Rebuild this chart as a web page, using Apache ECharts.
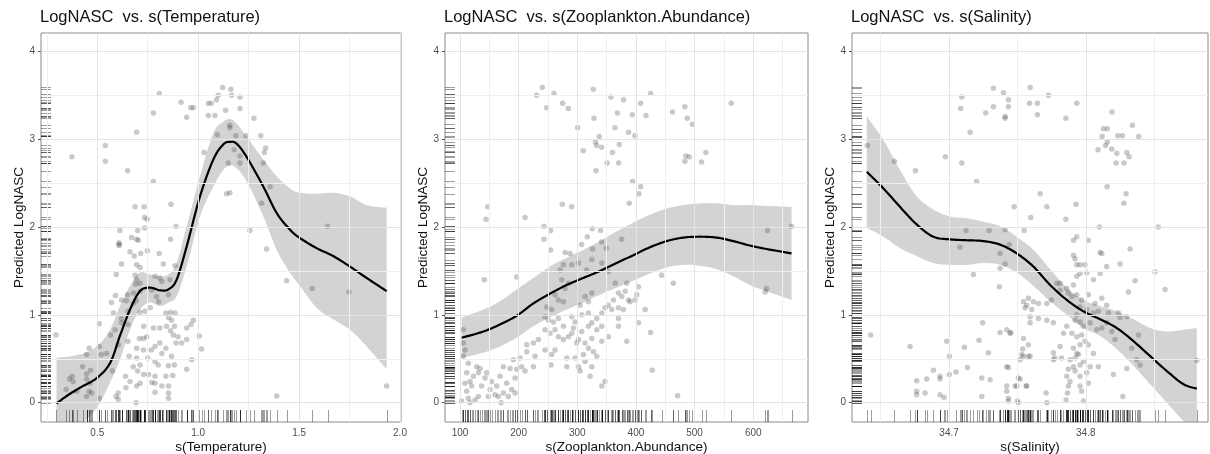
<!DOCTYPE html>
<html><head><meta charset="utf-8">
<script src="https://cdn.jsdelivr.net/npm/echarts@6/dist/echarts.min.js"></script>
<style>html,body{margin:0;padding:0;background:#fff}#c{width:1210px;height:454px}</style>
</head><body><div id="c"></div>
<script>
// ---------- text ----------
const panelTitles = ['LogNASC  vs. s(Temperature)', 'LogNASC  vs. s(Zooplankton.Abundance)', 'LogNASC  vs. s(Salinity)'];
const xNames = ['s(Temperature)', 's(Zooplankton.Abundance)', 's(Salinity)'];
const yName = 'Predicted LogNASC';

// ---------- ticks ----------
const yTicks = [0, 1, 2, 3, 4];
const yMinor = [0.5, 1.5, 2.5, 3.5];
const tempTicks = [0.5, 1.0, 1.5, 2.0];
const tempTickLabels = ['0.5', '1.0', '1.5', '2.0'];
const tempMinor = [0.25, 0.75, 1.25, 1.75];
const zooTicks = [100, 200, 300, 400, 500, 600];
const zooTickLabels = ['100', '200', '300', '400', '500', '600'];
const zooMinor = [150, 250, 350, 450, 550, 650];
const salTicks = [34.7, 34.8];
const salTickLabels = ['34.7', '34.8'];
const salMinor = [34.65, 34.75, 34.85];

// ---------- Temperature panel ----------
const tempPoints = [
[0.295,0.77],[0.374,2.80],[0.54,2.93],[0.54,2.75],[0.65,2.64],[0.695,3.08],[0.778,3.30],[0.807,3.52],[0.778,2.52],[0.687,2.23],[0.732,2.23],[0.734,2.11],[0.747,2.09],[0.865,2.26],[0.89,2.01],[0.612,1.96],[0.70,1.96],[0.734,1.99],[0.67,1.88],[0.695,1.86],[0.607,1.82],[0.607,1.79],[0.863,1.86],
[0.915,3.42],[0.963,3.36],[0.976,3.36],[0.943,3.25],[1.05,3.41],[1.065,3.41],[1.05,3.27],[1.083,3.27],[1.091,3.45],[1.099,3.50],[1.121,3.59],[1.162,3.57],[1.166,3.50],[1.207,3.48],[1.136,3.33],[1.207,3.35],[1.276,3.24],[1.095,3.05],[1.187,3.04],[1.237,3.04],[1.31,3.04],[1.157,3.16],[1.157,3.13],[1.178,2.88],[1.334,2.90],[1.328,2.85],[1.029,2.85],[1.207,2.81],[1.149,2.73],[1.207,2.73],[1.323,2.73],[1.141,2.38],[1.157,2.39],[1.356,2.46],[1.314,2.27],[1.256,1.96],[1.339,1.75],[1.438,1.39],[1.565,1.30],[1.641,2.01],[1.747,1.26],[1.934,0.19],[1.389,0.076],
[0.61,1.80],[0.703,1.85],[0.662,1.72],[0.715,1.70],[0.748,1.73],[0.807,1.70],[0.683,1.67],[0.62,1.58],[0.695,1.57],[0.712,1.54],[0.827,1.58],[0.885,1.56],[0.594,1.46],[0.687,1.45],[0.695,1.40],[0.712,1.36],[0.69,1.35],[0.786,1.44],[0.81,1.42],[0.82,1.38],[0.86,1.40],[0.77,1.28],[0.712,1.27],[0.68,1.25],[0.59,1.22],[0.65,1.23],[0.62,1.17],[0.645,1.16],[0.678,1.13],[0.694,1.16],[0.57,1.14],[0.794,1.21],[0.804,1.15],[0.853,1.23],[0.762,1.08],[0.737,1.04],[0.712,1.03],[0.652,1.04],[0.62,0.96],[0.58,1.02],[0.84,1.02],[0.863,1.03],[0.885,1.02],[0.853,0.97],[0.868,0.94],[0.62,0.91],[0.652,0.89],[0.51,0.90],[0.73,0.87],[0.778,0.85],[0.81,0.85],[0.843,0.87],[0.882,0.87],[0.943,0.85],[0.976,0.94],[0.964,0.89],[0.588,0.83],[0.566,0.77],[0.863,0.82],[0.877,0.77],[0.90,0.75],[0.918,0.68],[0.943,0.72],[1.005,0.76],[1.017,0.61],[0.709,0.73],[0.729,0.73],[0.745,0.75],[0.786,0.64],[0.84,0.62],[0.89,0.68],[0.81,0.68],[0.652,0.70],[0.604,0.66],[0.46,0.62],[0.51,0.64],[0.695,0.62],[0.729,0.60],[0.767,0.60],[0.82,0.56],[0.868,0.53],[0.546,0.56],[0.52,0.55],[0.658,0.53],[0.695,0.51],[0.75,0.51],[0.786,0.47],[0.802,0.43],[0.852,0.42],[0.882,0.43],[0.968,0.49],[0.943,0.38],[0.712,0.43],[0.678,0.41],[0.70,0.36],[0.729,0.32],[0.754,0.32],[0.575,0.36],[0.427,0.41],[0.447,0.33],[0.467,0.37],[0.375,0.30],[0.362,0.27],[0.38,0.24],[0.64,0.30],[0.786,0.30],[0.84,0.30],[0.874,0.31],[0.447,0.27],[0.464,0.22],[0.662,0.24],[0.712,0.22],[0.77,0.23],[0.786,0.22],[0.82,0.19],[0.853,0.19],[0.46,0.13],[0.472,0.11],[0.345,0.15],[0.398,0.13],[0.604,0.11],[0.642,0.17],[0.695,0.19],[0.51,0.05],[0.593,0.07],[0.604,0.04],[0.447,0.07],[0.692,0.0],[0.786,0.12],[0.853,0.11],[0.853,0.05],[0.447,0.55]
];
const tempFit = [[0.298,-0.01],[0.348,0.076],[0.414,0.17],[0.497,0.28],[0.563,0.45],[0.612,0.76],[0.662,1.06],[0.711,1.27],[0.761,1.31],[0.81,1.28],[0.852,1.29],[0.893,1.40],[0.943,1.78],[1.009,2.35],[1.075,2.77],[1.124,2.94],[1.157,2.97],[1.19,2.95],[1.24,2.80],[1.323,2.46],[1.389,2.16],[1.455,1.97],[1.504,1.875],[1.587,1.76],[1.669,1.67],[1.752,1.55],[1.835,1.42],[1.934,1.27]];
// [x, lower, upper]
const tempBand = [[0.298,-0.35,0.51],[0.414,-0.25,0.55],[0.497,-0.06,0.64],[0.563,0.23,0.83],[0.612,0.49,1.10],[0.662,0.83,1.33],[0.711,1.06,1.48],[0.761,1.14,1.46],[0.81,1.10,1.44],[0.852,1.14,1.46],[0.893,1.21,1.59],[0.943,1.55,2.01],[1.009,2.12,2.58],[1.075,2.46,3.07],[1.124,2.65,3.20],[1.157,2.70,3.23],[1.19,2.67,3.18],[1.24,2.52,3.03],[1.323,2.12,2.77],[1.389,1.74,2.58],[1.455,1.48,2.44],[1.504,1.33,2.39],[1.587,1.08,2.38],[1.669,0.95,2.39],[1.752,0.83,2.35],[1.835,0.64,2.25],[1.934,0.38,2.22]];

// ---------- Zooplankton panel ----------
const zooPoints = [
[230.7,3.50],[240.3,3.59],[247.7,3.36],[260.2,3.52],[275,3.41],[284.7,3.35],[300.6,3.13],[327.3,3.57],[328.4,3.24],[357.4,3.48],[368.2,3.30],[364.2,3.13],[379,3.45],[393.8,3.28],[408,3.41],[417,3.27],[425,3.52],[337.5,3.03],[331,2.97],[332.9,2.93],[341.5,2.91],[371.6,2.94],[310,2.87],[360,2.85],[351,2.73],[370.5,2.73],[331.8,2.64],[387.5,3.08],[398.3,3.04],[394.3,2.52],[408,2.46],[405,2.38],[388.6,2.27],[462.5,3.31],[483.5,3.37],[487.5,3.24],[496,3.17],[562.5,3.41],[485.2,2.81],[490.9,2.80],[483.5,2.75],[519.3,2.85],[511.9,2.74],[274.4,2.26],[290.3,2.23],[147.2,2.23],[144.3,2.09],[210.8,2.11],[243.2,2.01],[254.5,1.96],[325.6,1.98],[339.8,1.96],[141.5,1.40],[196.6,1.43],[624.4,1.96],[665.3,2.01],[622.7,1.30],[620.5,1.26],[443.8,1.45],[463.6,1.36],[425,0.80],[427.8,0.37],[471,0.08],[243.2,1.86],[254.5,1.74],[307.4,1.80],[317,1.89],[341.5,1.83],[349.4,1.76],[375.6,1.86],[326,1.75],
[279.2,1.71],[287.7,1.70],[276.3,1.57],[270.6,1.51],[290.6,1.57],[302,1.59],[316.1,1.51],[324.7,1.63],[341.8,1.59],[353.1,1.49],[273.5,1.40],[284.9,1.36],[279.2,1.30],[262.1,1.23],[267.8,1.17],[247.9,1.09],[256.4,1.06],[276.3,1.15],[245,0.98],[250.7,0.94],[259.3,0.92],[267.8,0.96],[276.3,0.87],[290.6,0.98],[296.2,0.92],[304.8,1.11],[313.3,1.21],[319,1.15],[324.7,1.25],[307.6,1.00],[319,1.02],[324.7,0.91],[333.2,0.96],[341.8,1.02],[347.4,1.08],[353.1,1.11],[361.7,1.17],[370.2,1.25],[375.9,1.21],[381.6,1.27],[387.3,1.17],[390.1,1.15],[358.8,1.06],[370.2,0.96],[378.7,1.06],[245,0.83],[253.6,0.79],[262.1,0.83],[267.8,0.75],[276.3,0.72],[284.9,0.75],[290.6,0.79],[299.1,0.68],[302,0.72],[293.4,0.85],[307.6,0.81],[319,0.87],[313.3,0.68],[324.7,0.73],[333.2,0.83],[341.8,0.87],[353.1,0.75],[370.2,0.87],[384.4,0.70],[341.8,0.70],[327.6,0.58],[319,0.62],[310.4,0.55],[296.2,0.51],[282,0.51],[256.4,0.55],[255.2,0.43],[262.1,0.60],[245,0.60],[302,0.41],[304.8,0.36],[321.8,0.30],[341.8,0.19],[347.4,0.24],[313.3,0.47],[324.7,0.41],[333.2,0.53],[282,0.41],[228,0.53],[225.2,0.41],[213.8,0.66],[225.2,0.68],[233.7,0.72],[213.8,0.58],[202.4,0.51],[205.2,0.41],[210.9,0.36],[196.7,0.38],[191,0.49],[185.3,0.39],[193.9,0.28],[179.6,0.22],[188.2,0.15],[193.9,0.11],[174,0.11],[170,0.0],[162.6,0.19],[154,0.24],[151.2,0.15],[159.7,0.09],[145.5,0.34],[142.7,0.28],[134.1,0.39],[128.4,0.41],[131.3,0.34],[122.8,0.30],[117.1,0.24],[119.9,0.19],[111.4,0.13],[114.2,0.05],[125.6,0.03],[131.3,0.07],[105.7,0.53],[108.5,0.60],[105.7,0.68],[105.7,0.83],[114.2,0.45],[111.4,0.34],[108.5,0.22],[102.8,0.02],[117.1,0.0],[136.9,0.19],[148.4,0.07],[165.4,0.07],[168.3,0.30],[174,0.41],[182.5,0.07],[404.3,0.91],[415.7,1.06],[398.6,1.17],[401.5,1.23],[370.2,1.08],[384.4,1.36],[364.5,1.36],[404.3,1.32]
];
const zooFit = [[102.8,0.74],[139.8,0.81],[168,0.89],[196.6,0.99],[225,1.13],[253,1.24],[281.8,1.34],[310,1.42],[338.6,1.50],[367,1.59],[395.5,1.68],[423.9,1.77],[452.3,1.84],[480.7,1.88],[509,1.89],[537.5,1.88],[566,1.84],[594,1.79],[622.7,1.75],[665.3,1.70]];
const zooBand = [[102.8,0.51,0.97],[139.8,0.57,1.06],[168,0.64,1.155],[196.6,0.74,1.29],[225,0.87,1.42],[253,0.97,1.55],[281.8,1.06,1.65],[310,1.14,1.74],[338.6,1.23,1.84],[367,1.31,1.95],[395.5,1.39,2.05],[423.9,1.47,2.14],[452.3,1.54,2.21],[480.7,1.57,2.25],[509,1.56,2.27],[537.5,1.52,2.27],[566,1.44,2.25],[594,1.34,2.25],[622.7,1.27,2.24],[665.3,1.17,2.23]];

// ---------- Salinity panel ----------
const salPoints = [
[34.6402,2.93],[34.66,2.75],[34.6754,2.64],[34.6973,2.80],[34.7093,3.48],[34.7085,3.35],[34.7093,2.73],[34.7154,3.08],[34.7202,2.52],[34.7268,3.30],[34.7324,3.58],[34.7324,3.37],[34.7398,3.53],[34.741,3.26],[34.741,3.24],[34.7434,3.45],[34.7434,3.37],[34.7593,3.59],[34.7588,3.41],[34.7646,3.41],[34.7646,3.28],[34.7727,3.50],[34.7854,3.24],[34.7934,3.41],[34.7666,2.38],[34.7715,2.23],[34.7476,2.23],[34.7598,2.11],[34.7854,2.09],[34.7929,2.26],[34.7124,1.96],[34.7293,1.96],[34.741,1.97],[34.7549,1.96],[34.708,1.77],[34.7373,1.70],[34.741,1.58],[34.7441,1.80],[34.7373,1.53],[34.7178,1.46],[34.7368,1.32],[34.6427,0.77],[34.6715,0.64],[34.6983,0.70],[34.7002,0.53],[34.7246,0.91],[34.7112,0.63],[34.7219,0.71],[34.7288,0.57],[34.7134,0.40],[34.7051,0.35],[34.7002,0.32],[34.6934,0.27],[34.6934,0.30],[34.6885,0.37],[34.6837,0.27],[34.6763,0.25],[34.6763,0.13],[34.6763,0.09],[34.6824,0.11],[34.6934,0.09],[34.6963,0.06],[34.7239,0.07],[34.7239,0.28],[34.73,0.26],[34.7373,0.80],[34.7422,0.83],[34.7451,0.80],[34.7434,0.40],[34.7422,0.19],[34.7422,0.13],[34.7434,0.02],[34.75,0.02],[34.7495,0.19],[34.752,0.27],[34.7563,0.19],[34.7539,0.61],[34.7532,0.55],[34.7593,0.53],[34.7715,0.0],[34.771,0.11],[34.7763,0.57],[34.7763,0.49],
[34.8192,3.31],[34.8341,3.16],[34.8387,3.03],[34.8129,3.12],[34.8158,3.12],[34.8119,3.03],[34.8234,3.04],[34.8268,3.04],[34.8158,2.97],[34.8144,2.93],[34.809,2.88],[34.819,2.89],[34.8227,2.84],[34.83,2.85],[34.8317,2.80],[34.8222,2.73],[34.828,2.73],[34.8156,2.46],[34.8295,2.38],[34.8278,2.27],[34.81,2.00],[34.853,2.00],[34.8324,1.75],[34.8251,1.58],
[34.791,1.85],[34.7934,1.89],[34.8019,1.85],[34.8105,1.71],[34.8117,1.70],[34.8507,1.49],[34.858,1.29],[34.791,1.68],[34.7922,1.64],[34.7934,1.57],[34.7958,1.57],[34.7995,1.57],[34.7958,1.47],[34.7934,1.44],[34.8007,1.48],[34.8056,1.40],[34.8105,1.47],[34.8153,1.55],[34.8361,1.39],[34.8312,1.26],[34.7812,1.36],[34.7861,1.30],[34.7873,1.25],[34.791,1.34],[34.7898,1.21],[34.7934,1.23],[34.797,1.17],[34.8019,1.23],[34.8068,1.13],[34.8117,1.19],[34.8153,1.11],[34.7958,1.09],[34.8007,1.06],[34.8056,1.02],[34.8092,1.04],[34.8166,1.02],[34.8239,1.02],[34.83,0.98],[34.8251,0.97],[34.7934,1.00],[34.7922,0.94],[34.7958,0.92],[34.7983,0.87],[34.8032,0.91],[34.8081,0.83],[34.8117,0.85],[34.8153,0.91],[34.819,0.81],[34.8214,0.72],[34.8385,0.77],[34.8336,0.62],[34.8373,0.49],[34.8397,0.43],[34.83,0.39],[34.8202,0.32],[34.8271,0.07],[34.8812,0.48],[34.7898,0.79],[34.7934,0.75],[34.797,0.77],[34.7995,0.70],[34.8019,0.66],[34.7958,0.66],[34.791,0.62],[34.7934,0.56],[34.7946,0.55],[34.7922,0.51],[34.7885,0.49],[34.8056,0.56],[34.7983,0.47],[34.7958,0.43],[34.791,0.41],[34.7873,0.38],[34.7922,0.36],[34.7958,0.30],[34.8007,0.34],[34.8032,0.41],[34.8092,0.41],[34.7861,0.30],[34.7885,0.24],[34.7873,0.19],[34.7866,0.11],[34.7856,0.03],[34.7958,0.19],[34.797,0.13],[34.7983,0.02],[34.8019,0.22],[34.7773,0.51],[34.7822,0.51],[34.7812,0.64],[34.7837,0.79],[34.7861,0.87],[34.7763,0.91],[34.7715,0.94],[34.7654,0.96],[34.7593,0.98],[34.7593,0.91],[34.7568,1.11],[34.7544,1.15],[34.758,1.19],[34.7617,1.15],[34.7654,1.13],[34.7556,1.08],[34.7605,1.06],[34.7749,1.17],[34.7715,1.13],[34.7812,1.28],[34.7788,1.36],[34.7544,0.73],[34.758,0.66],[34.7544,0.53],[34.758,0.53],[34.7519,0.49],[34.7446,0.79],[34.7422,0.41],[34.7507,0.28],[34.7483,0.19],[34.7568,0.19],[34.7434,0.05],[34.7507,0.0]
];
const salFit = [[34.6398,2.63],[34.652,2.44],[34.6641,2.23],[34.6763,2.03],[34.6885,1.89],[34.7007,1.86],[34.7129,1.85],[34.7251,1.84],[34.7373,1.80],[34.7495,1.70],[34.7617,1.55],[34.7739,1.34],[34.7861,1.17],[34.7983,1.04],[34.8105,0.95],[34.8227,0.85],[34.8349,0.70],[34.8471,0.53],[34.8593,0.36],[34.8715,0.21],[34.8812,0.16]];
const salBand = [[34.6398,1.99,3.26],[34.652,1.89,2.99],[34.6641,1.76,2.65],[34.6763,1.67,2.35],[34.6885,1.59,2.20],[34.7007,1.57,2.12],[34.7129,1.57,2.10],[34.7251,1.59,2.06],[34.7373,1.57,2.01],[34.7495,1.48,1.89],[34.7617,1.33,1.74],[34.7739,1.155,1.52],[34.7861,1.00,1.31],[34.7983,0.85,1.17],[34.8105,0.76,1.10],[34.8227,0.61,1.04],[34.8349,0.42,0.95],[34.8471,0.21,0.85],[34.8593,0.0,0.81],[34.8715,-0.21,0.83],[34.8812,-0.34,0.85]];

// ---------- layout / style (not data) ----------
const FONT = '"Liberation Sans", Arial, Helvetica, sans-serif';
const layout = [{left: 41, width: 360}, {left: 445, width: 363}, {left: 852, width: 356}];
const GRID_TOP = 33, GRID_H = 389;
const Y_MIN = -0.22, Y_MAX = 4.21;
const xRanges = [[0.221, 2.005], [74.4, 693.4], [34.629, 34.8894]];

const panels = [
  {pts: tempPoints, fit: tempFit, band: tempBand, ticks: tempTicks, labels: tempTickLabels, minor: tempMinor},
  {pts: zooPoints, fit: zooFit, band: zooBand, ticks: zooTicks, labels: zooTickLabels, minor: zooMinor},
  {pts: salPoints, fit: salFit, band: salBand, ticks: salTicks, labels: salTickLabels, minor: salMinor}
];

function spline(pts, steps) {
  const out = [];
  const n = pts.length;
  for (let i = 0; i < n - 1; i++) {
    const p0 = pts[Math.max(i - 1, 0)], p1 = pts[i], p2 = pts[i + 1], p3 = pts[Math.min(i + 2, n - 1)];
    for (let s = 0; s < steps; s++) {
      const t = s / steps, t2 = t * t, t3 = t2 * t;
      const f = k => 0.5 * (2 * p1[k] + (-p0[k] + p2[k]) * t + (2 * p0[k] - 5 * p1[k] + 4 * p2[k] - p3[k]) * t2 + (-p0[k] + 3 * p1[k] - 3 * p2[k] + p3[k]) * t3);
      out.push([f(0), f(1)]);
    }
  }
  out.push(pts[n - 1]);
  return out;
}

const option = {
  animation: false,
  backgroundColor: '#fff',
  title: panelTitles.map((t, i) => ({
    text: t, left: layout[i].left - 1, top: 9, padding: 0,
    textStyle: {fontSize: 16.5, fontWeight: 'normal', color: '#111', fontFamily: FONT}
  })),
  grid: layout.map(l => ({
    left: l.left, top: GRID_TOP, width: l.width, height: GRID_H,
    outerBoundsMode: 'none', containLabel: false,
    show: true, borderColor: '#8a8a8a', borderWidth: 1, backgroundColor: '#fff'
  })),
  xAxis: panels.map((p, i) => ({
    type: 'value', gridIndex: i, min: xRanges[i][0], max: xRanges[i][1],
    axisLine: {show: false},
    axisTick: {show: true, customValues: p.ticks, length: 3, lineStyle: {color: '#555'}},
    axisLabel: {customValues: p.ticks, margin: 6, fontSize: 10, color: '#4d4d4d', fontFamily: FONT,
      formatter: v => { const k = p.ticks.findIndex(t => Math.abs(t - v) < 1e-9); return k >= 0 ? p.labels[k] : ''; }},
    splitLine: {show: false},
    name: xNames[i], nameLocation: 'middle', nameGap: 18.5, nameMoveOverlap: false,
    nameTextStyle: {fontSize: 13.5, color: '#111', fontFamily: FONT}
  })),
  yAxis: panels.map((p, i) => ({
    type: 'value', gridIndex: i, min: Y_MIN, max: Y_MAX,
    axisLine: {show: false},
    axisTick: {show: true, customValues: yTicks, length: 3, lineStyle: {color: '#555'}},
    axisLabel: {customValues: yTicks, margin: 6, fontSize: 10, color: '#4d4d4d', fontFamily: FONT},
    splitLine: {show: false},
    name: yName, nameLocation: 'middle', nameGap: 15, nameMoveOverlap: false,
    nameTextStyle: {fontSize: 13.5, color: '#111', fontFamily: FONT}
  })),
  series: []
};

panels.forEach((p, i) => {
  const major = {color: '#e4e4e4', width: 1, type: 'solid'};
  const minor = {color: '#efefef', width: 1, type: 'solid'};
  const ml = [];
  yTicks.forEach(v => ml.push({yAxis: v, lineStyle: major}));
  yMinor.forEach(v => ml.push({yAxis: v, lineStyle: minor}));
  p.ticks.forEach(v => ml.push({xAxis: v, lineStyle: major}));
  p.minor.forEach(v => ml.push({xAxis: v, lineStyle: minor}));
  // grid lines
  option.series.push({
    type: 'line', xAxisIndex: i, yAxisIndex: i, data: [], z: 1, silent: true,
    markLine: {silent: true, symbol: ['none', 'none'], label: {show: false}, animation: false, data: ml}
  });
  // confidence band
  option.series.push({
    type: 'custom', xAxisIndex: i, yAxisIndex: i, z: 2, silent: true,
    data: p.band, encode: {x: 0, y: [1, 2]},
    renderItem: (params, api) => {
      if (params.dataIndex !== 0) return null;
      const cs = params.coordSys;
      const clampY = q => [q[0], Math.min(Math.max(q[1], cs.y), cs.y + cs.height)];
      const up = spline(p.band.map(r => api.coord([r[0], r[2]])), 8).map(clampY);
      const lo = spline(p.band.map(r => api.coord([r[0], r[1]])), 8).map(clampY).reverse();
      return {type: 'polygon', shape: {points: up.concat(lo)}, style: {fill: 'rgba(150,150,150,0.42)'}};
    }
  });
  // scatter points
  option.series.push({
    type: 'scatter', xAxisIndex: i, yAxisIndex: i, z: 3, silent: true,
    data: p.pts, symbolSize: 5.5,
    itemStyle: {color: 'rgba(60,60,60,0.34)'}
  });
  // rugs
  option.series.push({
    type: 'custom', xAxisIndex: i, yAxisIndex: i, z: 3, silent: true,
    data: p.pts, encode: {x: 0, y: 1},
    renderItem: (params, api) => {
      const cs = params.coordSys;
      const q = api.coord([api.value(0), api.value(1)]);
      const b = cs.y + cs.height;
      const x = Math.round(q[0]) + 0.5, y = Math.round(q[1]) + 0.5;
      return {type: 'group', children: [
        {type: 'line', shape: {x1: x, y1: b, x2: x, y2: b - 12}, style: {stroke: 'rgba(0,0,0,0.38)', lineWidth: 1}},
        {type: 'line', shape: {x1: cs.x, y1: y, x2: cs.x + 10, y2: y}, style: {stroke: 'rgba(0,0,0,0.38)', lineWidth: 1}}
      ]};
    }
  });
  // fitted smooth
  option.series.push({
    type: 'custom', xAxisIndex: i, yAxisIndex: i, z: 4, silent: true,
    data: p.fit, encode: {x: 0, y: 1},
    renderItem: (params, api) => {
      if (params.dataIndex !== 0) return null;
      const pts = spline(p.fit.map(r => api.coord(r)), 8);
      return {type: 'polyline', shape: {points: pts}, style: {stroke: '#000', lineWidth: 2.2, fill: null, lineJoin: 'round'}};
    }
  });
});

const chart = echarts.init(document.getElementById('c'), null, {renderer: 'canvas'});
chart.setOption(option);
</script></body></html>
